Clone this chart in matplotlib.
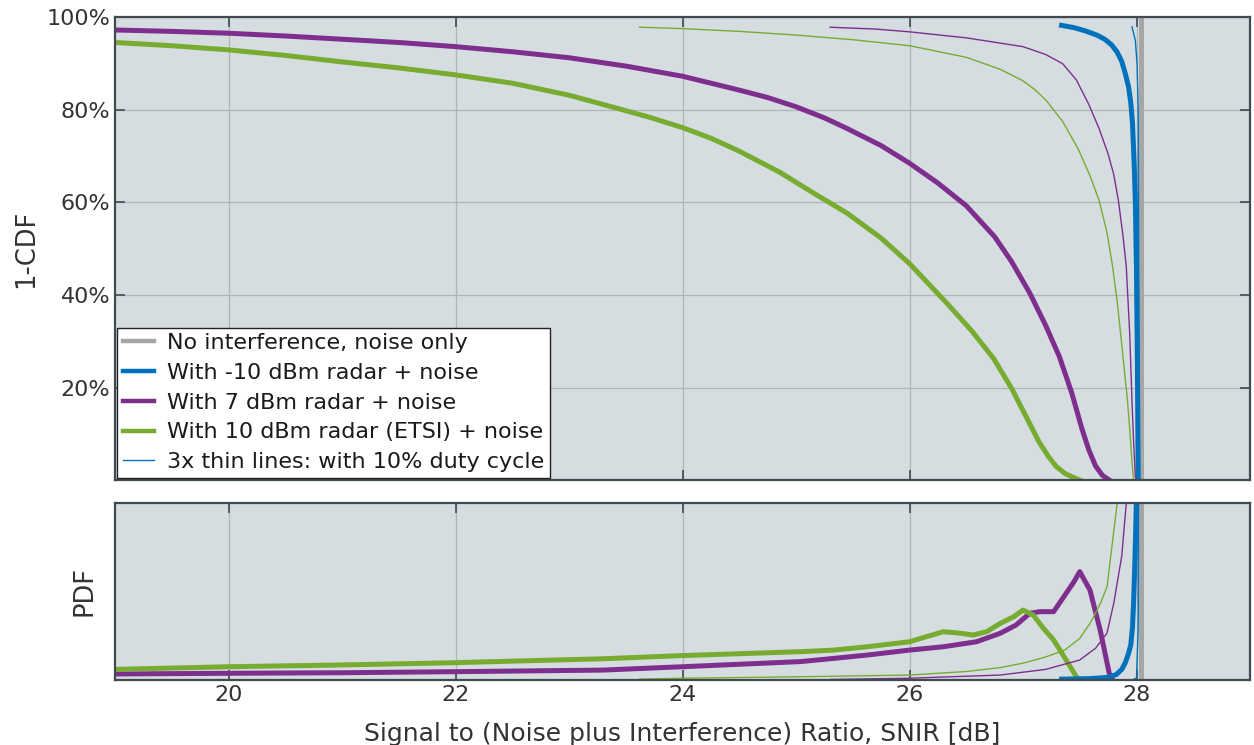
import matplotlib
matplotlib.use("Agg")
import matplotlib.pyplot as plt
from matplotlib.lines import Line2D
from matplotlib.ticker import FuncFormatter

# ---------------- data ----------------
# 1-CDF curves, x in dB, y in %
noise_x = [28.04, 28.04]
noise_cdf = [0, 100]

blue_x = [27.34, 27.45, 27.55, 27.65, 27.72, 27.78, 27.83, 27.87, 27.9, 27.93,
          27.95, 27.965, 27.98, 27.99, 28.0, 28.008, 28.015]
blue_cdf = [98.3, 97.8, 97.1, 96.2, 95.3, 94.1, 92.5, 90.5, 88.0, 85.0,
            81.5, 77.0, 68.0, 60.0, 45.0, 25.0, 0.0]

purple_x = [19, 19.5, 20, 20.5, 21, 21.5, 22, 22.5, 23, 23.5, 24, 24.5, 24.75, 25.0,
            25.25, 25.45, 25.75, 26.0, 26.25, 26.5, 26.75, 26.9, 27.06, 27.2, 27.32,
            27.43, 27.52, 27.58, 27.64, 27.7, 27.76]
purple_cdf = [97.3, 97.0, 96.6, 96.0, 95.3, 94.6, 93.7, 92.6, 91.3, 89.5, 87.3, 84.3,
              82.7, 80.7, 78.3, 76.0, 72.3, 68.5, 64.2, 59.3, 52.6, 47.2, 40.4, 33.4,
              26.7, 18.8, 11.0, 6.5, 3.0, 1.0, 0.0]

green_x = [19, 19.5, 20, 20.5, 21, 21.5, 22, 22.5, 23, 23.36, 23.7, 24.0, 24.25, 24.5,
           24.86, 25.15, 25.45, 25.75, 26.0, 26.33, 26.55, 26.74, 26.9, 27.0, 27.14,
           27.22, 27.29, 27.37, 27.46, 27.5]
green_cdf = [94.6, 93.9, 93.0, 91.8, 90.4, 89.1, 87.6, 85.8, 83.2, 80.8, 78.5, 76.2,
             73.9, 71.1, 66.5, 62.1, 57.7, 52.3, 46.8, 38.2, 32.2, 26.3, 19.8, 15.0,
             8.3, 5.2, 3.0, 1.4, 0.4, 0.0]

blue_thin_x = [27.96, 27.99, 28.005, 28.015, 28.02, 28.025]
blue_thin_cdf = [98.0, 95.0, 90.0, 80.0, 40.0, 0.0]

purple_thin_x = [25.3, 25.7, 26, 26.5, 27.0, 27.2, 27.35, 27.47, 27.58, 27.67, 27.75,
                 27.8, 27.84, 27.88, 27.91, 27.94, 27.96, 27.975, 27.99, 28.0]
purple_thin_cdf = [97.9, 97.5, 96.9, 95.6, 93.7, 92.0, 90.0, 86.5, 81.2, 76.0, 70.5,
                   66.0, 60.5, 53.0, 46.1, 31.7, 17.3, 8.0, 0.7, 0.0]

green_thin_x = [23.62, 24, 24.5, 25, 25.5, 26, 26.5, 26.8, 27.0, 27.1, 27.2, 27.35,
                27.49, 27.59, 27.67, 27.74, 27.79, 27.83, 27.86, 27.89, 27.92, 27.945,
                27.96, 27.975]
green_thin_cdf = [97.9, 97.6, 97.0, 96.2, 95.2, 93.9, 91.4, 88.8, 86.3, 84.5, 82.2,
                  77.5, 71.4, 65.8, 60.5, 53.5, 46.1, 38.5, 31.7, 24.5, 17.3, 9.5,
                  4.0, 0.0]

# PDF curves (arbitrary units, axis top = 1)
noise_pdf = [0, 1.5]

blue_pdf_x = [27.34, 27.6, 27.75, 27.82, 27.87, 27.9, 27.93, 27.95, 27.965, 27.975,
              27.985, 27.995, 28.005]
blue_pdf = [0.005, 0.008, 0.015, 0.03, 0.06, 0.096, 0.15, 0.2, 0.3, 0.45,
            0.65, 0.9, 1.2]

purple_pdf_x = [19, 20, 21, 22, 23.3, 24, 25.04, 25.33, 25.63, 26.0, 26.3, 26.59,
                26.8, 26.94, 27.06, 27.15, 27.27, 27.36, 27.45, 27.5, 27.59, 27.68,
                27.76, 27.79]
purple_pdf = [0.034, 0.038, 0.041, 0.047, 0.056, 0.075, 0.104, 0.122, 0.141, 0.169,
              0.188, 0.216, 0.264, 0.311, 0.377, 0.386, 0.386, 0.471, 0.556, 0.612,
              0.508, 0.282, 0.038, 0.0]

green_pdf_x = [19, 20, 21, 22, 23.3, 24, 25.04, 25.33, 25.63, 26.0, 26.15, 26.3,
               26.45, 26.56, 26.68, 26.8, 26.92, 27.0, 27.09, 27.18, 27.27, 27.38,
               27.47, 27.5]
green_pdf = [0.06, 0.075, 0.085, 0.098, 0.12, 0.138, 0.16, 0.169, 0.188, 0.216,
             0.245, 0.273, 0.264, 0.254, 0.273, 0.32, 0.358, 0.395, 0.367, 0.292,
             0.226, 0.113, 0.019, 0.0]

blue_thin_pdf_x = [27.96, 28.0, 28.015, 28.02]
blue_thin_pdf = [0.0, 0.01, 0.3, 1.5]

purple_thin_pdf_x = [25.3, 26, 26.8, 27.2, 27.5, 27.64, 27.74, 27.8, 27.87, 27.91, 27.95]
purple_thin_pdf = [0.003, 0.01, 0.028, 0.06, 0.113, 0.18, 0.265, 0.435, 0.7, 1.0, 1.4]

green_thin_pdf_x = [23.62, 24, 25, 26, 26.5, 26.8, 27.0, 27.2, 27.37, 27.5, 27.6,
                    27.68, 27.74, 27.79, 27.83, 27.87]
green_thin_pdf = [0.005, 0.01, 0.018, 0.028, 0.048, 0.07, 0.095, 0.13, 0.17, 0.235,
                  0.33, 0.43, 0.525, 0.79, 1.0, 1.3]

labels = ["No interference, noise only",
          "With -10 dBm radar + noise",
          "With 7 dBm radar + noise",
          "With 10 dBm radar (ETSI) + noise",
          "3x thin lines: with 10% duty cycle"]
x_ticks = [20, 22, 24, 26, 28]
y_ticks = [20, 40, 60, 80, 100]

# ---------------- style ----------------
C_GRAY = "#A6A6A6"
C_BLUE = "#0072BD"
C_PURPLE = "#7E2F8E"
C_GREEN = "#77AC30"
BG = "#D5DDE1"
SPINE = "#3F4A51"
TXT = "#333333"
THICK = 3.6
THIN = 1.0

plt.rcParams["font.family"] = ["DejaVu Sans"]
plt.rcParams["font.size"] = 16

fig = plt.figure(figsize=(12.54, 7.45), dpi=100)
ax1 = fig.add_axes([115 / 1254, 265 / 745, 1135 / 1254, 462.5 / 745])
ax2 = fig.add_axes([115 / 1254, 65 / 745, 1135 / 1254, 177 / 745])

for ax in (ax1, ax2):
    ax.set_facecolor(BG)
    ax.set_xlim(19, 29)
    ax.set_xticks(x_ticks)
    for s in ax.spines.values():
        s.set_color(SPINE)
        s.set_linewidth(1.6)
    ax.tick_params(direction="in", length=7, width=1.2, color=SPINE,
                   top=True, right=True, labelcolor=TXT, labelsize=16)
    ax.grid(True, color="#B0B5B8", linewidth=0.9)
    ax.set_axisbelow(True)

# ---- top: 1-CDF ----
ax1.plot(noise_x, noise_cdf, color=C_GRAY, lw=THICK, solid_capstyle="butt")
ax1.plot(green_x, green_cdf, color=C_GREEN, lw=THICK)
ax1.plot(purple_x, purple_cdf, color=C_PURPLE, lw=THICK)
ax1.plot(blue_x, blue_cdf, color=C_BLUE, lw=THICK)
ax1.plot(green_thin_x, green_thin_cdf, color=C_GREEN, lw=THIN)
ax1.plot(purple_thin_x, purple_thin_cdf, color=C_PURPLE, lw=THIN)
ax1.plot(blue_thin_x, blue_thin_cdf, color=C_BLUE, lw=THIN)
ax1.set_ylim(0, 100)
ax1.set_yticks(y_ticks)
ax1.yaxis.set_major_formatter(FuncFormatter(lambda v, p: f"{v:.0f}%"))
ax1.tick_params(labelbottom=False)
ax1.set_ylabel("1-CDF", color=TXT, fontsize=18.5)
ax1.yaxis.set_label_coords(-0.067, 0.5)

handles = [Line2D([], [], color=C_GRAY, lw=3.2),
           Line2D([], [], color=C_BLUE, lw=3.2),
           Line2D([], [], color=C_PURPLE, lw=3.2),
           Line2D([], [], color=C_GREEN, lw=3.2),
           Line2D([], [], color=C_BLUE, lw=THIN)]
leg = ax1.legend(handles, labels, loc="lower left", bbox_to_anchor=(0, 0),
                 borderaxespad=0.1, fancybox=False, framealpha=1,
                 edgecolor="#222222", fontsize=16, handlelength=1.4,
                 handletextpad=0.6, labelspacing=0.44, borderpad=0.25)
leg.get_frame().set_linewidth(1.0)
for t in leg.get_texts():
    t.set_color("#1A1A1A")

# ---- bottom: PDF ----
ax2.plot(noise_x, noise_pdf, color=C_GRAY, lw=THICK, solid_capstyle="butt")
ax2.plot(purple_pdf_x, purple_pdf, color=C_PURPLE, lw=THICK)
ax2.plot(green_pdf_x, green_pdf, color=C_GREEN, lw=THICK)
ax2.plot(green_thin_pdf_x, green_thin_pdf, color=C_GREEN, lw=THIN)
ax2.plot(purple_thin_pdf_x, purple_thin_pdf, color=C_PURPLE, lw=THIN)
ax2.plot(blue_pdf_x, blue_pdf, color=C_BLUE, lw=THICK)
ax2.plot(blue_thin_pdf_x, blue_thin_pdf, color=C_BLUE, lw=THIN)
ax2.set_ylim(0, 1)
ax2.set_yticks([])
ax2.set_ylabel("PDF", color=TXT, fontsize=18.5)
ax2.yaxis.set_label_coords(-0.015, 0.5)
ax2.set_xlabel("Signal to (Noise plus Interference) Ratio, SNIR [dB]",
               color=TXT, fontsize=18, labelpad=12)

fig.savefig("out.png", dpi=100, facecolor="white")
